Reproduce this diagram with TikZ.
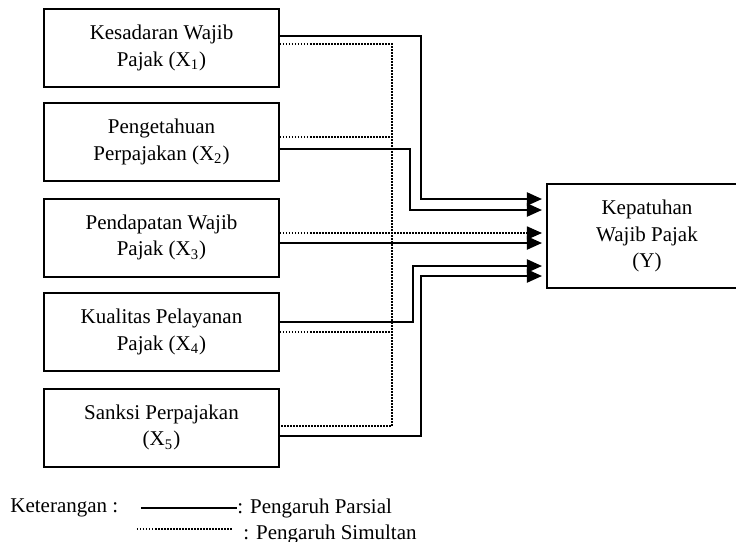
\documentclass[tikz,border=0pt]{standalone}
\usepackage{fontspec}
\setmainfont{Liberation Serif}
\usetikzlibrary{arrows.meta, positioning, calc}

\begin{document}
\begin{tikzpicture}[x=0.5pt, y=-0.5pt,
  var/.style={draw, line width=1pt, minimum width=117.5pt, minimum height=39pt,
    align=center, inner sep=0pt, font=\fontsize{10.5}{13.2}\selectfont},
  parsial/.style={line width=1pt},
  simultan/.style={line width=0.75pt, dash pattern=on 0.75pt off 0.75pt},
  tip/.style={-{Triangle[length=7.5pt, width=6.5pt]}, shorten >=2pt},
  lbl/.style={font=\fontsize{10.5}{13.2}\selectfont, inner sep=0pt}]
\useasboundingbox (0,0) rectangle (736,542);

% Variables
\node[var] (x1) at (161.5,48) {Kesadaran Wajib\\Pajak (X\textsubscript{1})};
\node[var] (x2) at (161.5,142) {Pengetahuan\\Perpajakan (X\textsubscript{2})};
\node[var] (x3) at (161.5,237.5) {Pendapatan Wajib\\Pajak (X\textsubscript{3})};
\node[var] (x4) at (161.5,332) {Kualitas Pelayanan\\Pajak (X\textsubscript{4})};
\node[var] (x5) at (161.5,427.5) {Sanksi Perpajakan\\(X\textsubscript{5})};
\node[var, minimum width=100pt, minimum height=52pt] (y) at (647,236) {Kepatuhan\\Wajib Pajak\\(Y)};

% Partial effects
\draw[parsial, tip] (x1.east |- 0,36) -| (421,199) -- (y.west |- 0,199);
\draw[parsial, tip] (x2.east |- 0,149) -| (410,210) -- (y.west |- 0,210);
\draw[parsial, tip] (x3.east |- 0,243) -- (y.west |- 0,243);
\draw[parsial, tip] (x4.east |- 0,322) -| (413,266) -- (y.west |- 0,266);
\draw[parsial, tip] (x5.east |- 0,436) -| (421,276) -- (y.west |- 0,276);

% Simultaneous effect
\draw[simultan] (x1.east |- 0,44) -| (392,426) -- (x5.east |- 0,426);
\draw[simultan] (x2.east |- 0,137) -- (392,137);
\draw[simultan] (x4.east |- 0,332) -- (392,332);
\draw[simultan, tip] (x3.east |- 0,233) -- (y.west |- 0,233);

% Legend
\node[lbl, anchor=west] (ket) at (10,508) {Keterangan :};
\coordinate (a1) at (141,508);
\coordinate (a2) at (237,508);
\draw[parsial] (a1) -- (a2);
\node[lbl, anchor=west] (lp) at (a2) {: Pengaruh Parsial};
\coordinate (b1) at (137,529);
\coordinate (b2) at (233,529);
\draw[simultan] (b1) -- (b2);
\node[lbl, anchor=west] (ls) at (243,534) {: Pengaruh Simultan};
\end{tikzpicture}
\end{document}
